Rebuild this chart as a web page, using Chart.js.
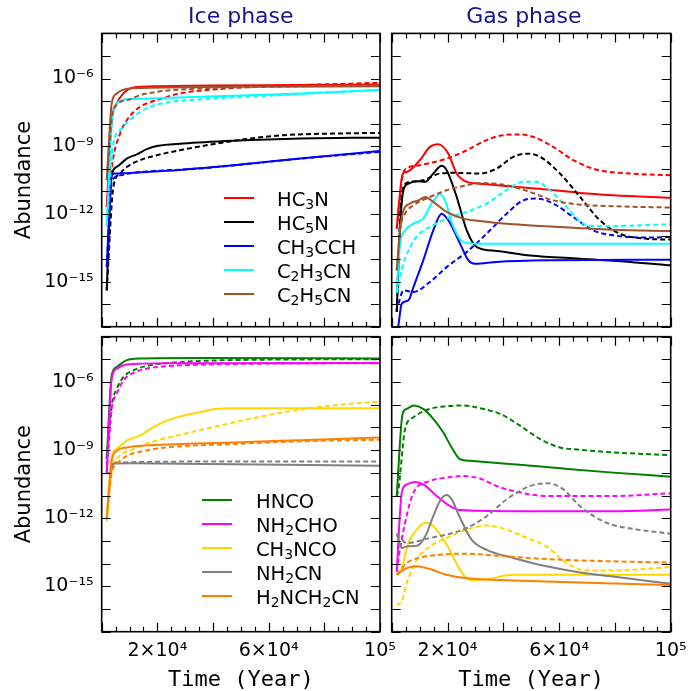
<!DOCTYPE html>
<html>
<head>
<meta charset="utf-8">
<title>Abundance vs time</title>
<script src="https://cdn.jsdelivr.net/npm/chart.js@4.4.1/dist/chart.umd.min.js"></script>
<style>
  body { margin: 0; background: #fff; }
  #wrap { position: relative; width: 694px; height: 691px; overflow: hidden; }
  .panel { position: absolute; }
</style>
</head>
<body>
<div id="wrap">
  <div class="panel" style="left:0;top:0;width:410px;height:330px"><canvas id="iceTop"></canvas></div>
  <div class="panel" style="left:377px;top:0;width:317px;height:330px"><canvas id="gasTop"></canvas></div>
  <div class="panel" style="left:0;top:330px;width:410px;height:361px"><canvas id="iceBottom"></canvas></div>
  <div class="panel" style="left:377px;top:330px;width:317px;height:361px"><canvas id="gasBottom"></canvas></div>
</div>
<script>
// axis ticks
const timeTicks = [20000, 60000, 100000];
const timeTickLabels = ['2×10⁴', '6×10⁴', '10⁵'];
const abundanceTicks = [1e-6, 1e-9, 1e-12, 1e-15];
const abundanceTickLabels = ['10⁻⁶', '10⁻⁹', '10⁻¹²', '10⁻¹⁵'];

// species shown in each row
const topSpecies = ['HC₃N', 'HC₅N', 'CH₃CCH', 'C₂H₃CN', 'C₂H₅CN'];
const topColors = ['#ff0000', '#000000', '#0000ff', '#00ffff', '#a0522d'];
const bottomSpecies = ['HNCO', 'NH₂CHO', 'CH₃NCO', 'NH₂CN', 'H₂NCH₂CN'];
const bottomColors = ['#008000', '#ff00ff', '#ffd700', '#808080', '#ff8000'];

// [time (yr), log10 abundance]; A = solid model, B = dashed model
// --- ice, top row ---
const hc3nIceA = [[1800,-11.7],[3600,-7.85],[5400,-7.1],[7800,-6.66],[11400,-6.4],[19800,-6.34],[40000,-6.31],[70000,-6.29],[100000,-6.27]];
const hc3nIceB = [[1800,-11.7],[4200,-9.47],[6600,-8.44],[9000,-7.85],[13800,-7.25],[19800,-6.96],[28100,-6.66],[40000,-6.49],[59300,-6.34],[83200,-6.25],[100000,-6.19]];
const hc5nIceA = [[1800,-15.39],[3600,-10.29],[5400,-9.92],[9000,-9.55],[12600,-9.36],[16200,-9.13],[19800,-8.99],[29300,-8.88],[47300,-8.76],[71300,-8.66],[100000,-8.62]];
const hc5nIceB = [[1800,-15.39],[4200,-10.8],[6600,-10.21],[9000,-9.92],[13800,-9.62],[19800,-9.4],[29300,-9.15],[41300,-8.88],[53300,-8.66],[65300,-8.51],[83200,-8.44],[100000,-8.41]];
const ch3cchIceA = [[1800,-14.36],[3600,-10.29],[4800,-10.21],[11400,-10.18],[23400,-10.09],[47300,-9.84],[71300,-9.55],[100000,-9.21]];
const ch3cchIceB = [[1800,-14.36],[3600,-10.58],[6600,-10.29],[11400,-10.18],[35300,-9.99],[71300,-9.55],[100000,-9.25]];
const c2h3cnIceA = [[1800,-12.5],[3600,-8.0],[4800,-7.25],[7200,-6.96],[11400,-6.91],[35300,-6.81],[71300,-6.66],[100000,-6.51]];
const c2h3cnIceB = [[1800,-12.5],[4200,-8.88],[6600,-8.29],[11400,-7.7],[17400,-7.25],[25700,-7.03],[41300,-6.88],[71300,-6.69],[100000,-6.49]];
const c2h5cnIceA = [[1800,-10.5],[3600,-7.1],[5400,-6.66],[7800,-6.49],[11400,-6.43],[50000,-6.37],[100000,-6.34]];
const c2h5cnIceB = [[1800,-10.5],[4200,-7.4],[9000,-6.96],[13800,-6.74],[19800,-6.59],[35300,-6.44],[59300,-6.37],[100000,-6.29]];

// --- gas, top row ---
const hc3nGasA = [[1800,-12.65],[3900,-10.24],[5400,-10.14],[10100,-9.62],[13700,-9.03],[16700,-8.91],[18500,-9.03],[20300,-9.33],[23300,-10.21],[26900,-10.58],[31600,-10.66],[43600,-10.8],[55500,-10.92],[67500,-11.07],[79400,-11.17],[100000,-11.29]];
const hc3nGasB = [[1800,-12.65],[3900,-10.3],[5400,-9.99],[10100,-9.84],[19700,-9.55],[26900,-9.18],[34000,-8.73],[40000,-8.51],[46000,-8.48],[50800,-8.59],[57900,-9.03],[65100,-9.62],[73500,-10.04],[85400,-10.21],[100000,-10.29]];
const hc5nGasA = [[1800,-16.35],[3000,-12.58],[4200,-10.95],[6000,-10.66],[9000,-10.55],[12000,-10.58],[14900,-10.21],[17900,-9.87],[19700,-10.07],[23300,-11.25],[26900,-12.73],[30500,-13.47],[37600,-13.64],[49600,-13.84],[67500,-13.99],[85400,-14.13],[100000,-14.28]];
const hc5nGasB = [[1800,-16.35],[3000,-12.2],[4200,-10.8],[6600,-10.58],[11300,-10.51],[17300,-10.21],[22100,-10.18],[31600,-10.21],[37600,-9.99],[43600,-9.47],[48400,-9.33],[53200,-9.47],[60300,-10.21],[67500,-11.25],[74600,-12.28],[81800,-12.88],[91400,-13.1],[100000,-13.14]];
const ch3cchGasA = [[2000,-17.2],[2400,-16.94],[3600,-15.98],[6000,-15.83],[7800,-15.24],[11300,-14.06],[14900,-12.73],[17900,-11.99],[20300,-12.28],[24500,-13.32],[27500,-14.06],[29900,-14.21],[37600,-14.13],[55500,-14.06],[100000,-14.03]];
const ch3cchGasB = [[2400,-15.98],[4200,-15.39],[7800,-15.46],[13700,-15.02],[19700,-14.36],[26900,-13.69],[34000,-12.88],[41200,-11.99],[47200,-11.4],[51900,-11.32],[57900,-11.54],[65100,-12.14],[72200,-12.73],[79400,-12.95],[91400,-13.05],[100000,-13.02]];
const c2h3cnGasA = [[1800,-15.5],[3000,-13.32],[4800,-12.73],[7800,-12.43],[11300,-12.21],[14300,-11.54],[17300,-11.13],[19100,-11.4],[22100,-12.58],[25700,-13.25],[31600,-13.32],[100000,-13.32]];
const c2h3cnGasB = [[1800,-15.5],[4200,-14.21],[6600,-13.47],[9000,-12.99],[13700,-12.58],[19700,-12.21],[26900,-11.91],[34000,-11.54],[41200,-10.95],[47200,-10.58],[51900,-10.58],[56700,-10.95],[62700,-11.69],[68700,-12.43],[74600,-12.55],[100000,-12.46]];
const c2h5cnGasA = [[1800,-14.5],[3600,-12.14],[6600,-11.54],[9600,-11.4],[12000,-11.25],[14900,-11.47],[19700,-11.91],[25700,-12.21],[31600,-12.31],[43600,-12.46],[55500,-12.55],[79400,-12.7],[100000,-12.76]];
const c2h5cnGasB = [[1800,-14.5],[3000,-12.7],[4800,-11.99],[7800,-11.62],[13700,-11.25],[19700,-10.95],[26900,-10.73],[31600,-10.63],[41200,-10.73],[49600,-11.03],[57900,-11.4],[67500,-11.59],[79400,-11.66],[100000,-11.72]];

// --- ice, bottom row ---
const hncoIceA = [[1800,-9.38],[3600,-5.7],[5400,-5.33],[9000,-5.03],[13800,-4.96],[35300,-4.94],[100000,-4.96]];
const hncoIceB = [[1800,-9.38],[3600,-7.03],[5400,-6.3],[7800,-5.78],[11400,-5.48],[17400,-5.26],[29300,-5.11],[47300,-5.03],[100000,-4.99]];
const nh2choIceA = [[1800,-9.99],[3600,-5.85],[5400,-5.41],[9000,-5.23],[23400,-5.17],[100000,-5.16]];
const nh2choIceB = [[1800,-9.99],[3600,-7.18],[5400,-6.52],[7800,-5.93],[11400,-5.59],[17400,-5.38],[29300,-5.26],[47300,-5.2],[100000,-5.17]];
const ch3ncoIceA = [[1800,-12.13],[3600,-9.32],[5400,-8.95],[9000,-8.58],[13800,-8.36],[17400,-8.07],[23400,-7.7],[29300,-7.48],[35300,-7.33],[41300,-7.18],[47300,-7.15],[100000,-7.15]];
const ch3ncoIceB = [[1800,-12.13],[3600,-9.9],[5400,-9.4],[11400,-8.95],[17400,-8.66],[29300,-8.29],[41300,-7.95],[53300,-7.62],[65300,-7.33],[77200,-7.11],[89200,-6.96],[100000,-6.86]];
const nh2cnIceA = [[1800,-10.02],[3000,-10.0],[4200,-9.59],[11400,-9.58],[47300,-9.62],[100000,-9.69]];
const nh2cnIceB = [[1800,-10.02],[3000,-10.0],[4200,-9.55],[47300,-9.5],[100000,-9.5]];
const h2nch2cnIceA = [[1800,-11.98],[3600,-9.47],[5400,-9.03],[9000,-8.88],[17400,-8.78],[47300,-8.66],[71300,-8.56],[100000,-8.44]];
const h2nch2cnIceB = [[1800,-11.98],[3600,-9.99],[5400,-9.62],[9000,-9.25],[13800,-9.07],[23400,-8.88],[47300,-8.73],[71300,-8.61],[100000,-8.54]];

// --- gas, bottom row ---
const hncoGasA = [[1800,-11.02],[3900,-7.4],[5400,-7.18],[7800,-7.03],[11300,-7.18],[14900,-7.62],[18500,-8.22],[21500,-8.88],[24500,-9.4],[28100,-9.47],[43600,-9.62],[61500,-9.81],[79400,-9.99],[100000,-10.17]];
const hncoGasB = [[1800,-11.02],[2400,-10.73],[4800,-8.07],[7800,-7.55],[13700,-7.18],[19700,-7.06],[25700,-7.03],[31600,-7.15],[38800,-7.4],[46000,-7.92],[53200,-8.51],[60300,-8.88],[67500,-8.98],[79400,-9.1],[100000,-9.22]];
const nh2choGasA = [[1800,-14.35],[3600,-10.87],[5400,-10.51],[8400,-10.4],[11300,-10.51],[16100,-11.02],[20900,-11.47],[24500,-11.64],[43600,-11.69],[79400,-11.69],[100000,-11.61]];
const nh2choGasB = [[1800,-14.35],[2400,-13.8],[4800,-12.2],[7800,-10.87],[13700,-10.36],[19700,-10.21],[25700,-10.14],[31600,-10.25],[37600,-10.58],[43600,-10.8],[55500,-11.02],[79400,-11.02],[100000,-10.9]];
const ch3ncoGasA = [[1800,-14.49],[3600,-14.2],[6000,-13.09],[9000,-12.5],[12000,-12.2],[14900,-12.35],[19700,-13.16],[24500,-14.27],[28100,-14.72],[34000,-14.69],[43600,-14.49],[55500,-14.49],[100000,-14.49]];
const ch3ncoGasB = [[1800,-15.82],[3600,-15.67],[5400,-14.86],[9000,-13.83],[13700,-13.24],[19700,-12.87],[26900,-12.5],[34000,-12.32],[41200,-12.5],[48400,-12.87],[55500,-13.24],[62700,-13.98],[69900,-14.3],[79400,-14.3],[100000,-14.15]];
const nh2cnGasA = [[1800,-12.68],[3600,-13.31],[5400,-13.24],[9000,-13.21],[12000,-12.8],[14900,-11.91],[17300,-11.24],[19700,-10.98],[21500,-11.17],[24500,-11.98],[28600,-12.94],[34000,-13.39],[43600,-13.75],[55500,-14.12],[67500,-14.39],[79400,-14.57],[100000,-14.89]];
const nh2cnGasB = [[1800,-12.68],[5400,-13.09],[13700,-12.87],[19700,-12.72],[26900,-12.43],[34000,-11.91],[41200,-11.17],[49600,-10.58],[56100,-10.46],[61500,-10.73],[67500,-11.47],[77000,-12.2],[86600,-12.47],[100000,-12.68]];
const h2nch2cnGasA = [[1800,-14.49],[5400,-14.2],[9000,-14.12],[13700,-14.24],[19700,-14.49],[26900,-14.64],[43600,-14.74],[67500,-14.83],[100000,-14.94]];
const h2nch2cnGasB = [[1800,-14.49],[5400,-13.98],[10100,-13.73],[17300,-13.61],[25700,-13.56],[37600,-13.65],[55500,-13.8],[79400,-13.9],[100000,-13.95]];

Chart.defaults.font.family = 'DejaVu Sans';
Chart.defaults.color = '#000';

function toPoints(pairs) {
  return pairs.map(([t, lg]) => ({ x: t, y: Math.pow(10, lg) }));
}

// one solid and one dashed line per species
function buildDatasets(names, colors, solid, dashed) {
  const sets = [];
  names.forEach((name, i) => {
    [[solid[i], false], [dashed[i], true]].forEach(([pairs, isDashed], k) => {
      sets.push({
        label: name,
        data: toPoints(pairs),
        borderColor: colors[i],
        borderWidth: 2,
        borderDash: isDashed ? [5, 3] : [],
        keyEntry: !isDashed,
        pointRadius: 0,
        fill: false,
        cubicInterpolationMode: 'monotone',
        order: -(i * 2 + k)
      });
    });
  });
  return sets;
}

// box frame with inward ticks on all four sides
const frameTicks = {
  id: 'frameTicks',
  afterDatasetsDraw(chart) {
    const { ctx, chartArea: a, scales: { x, y } } = chart;
    ctx.save();
    ctx.strokeStyle = '#000';
    ctx.lineWidth = 1.2;
    ctx.beginPath();
    for (let e = -17; e <= -4; e++) {
      const py = Math.round(y.getPixelForValue(Math.pow(10, e))) + 0.5;
      ctx.moveTo(a.left, py); ctx.lineTo(a.left + 9, py);
      ctx.moveTo(a.right, py); ctx.lineTo(a.right - 9, py);
    }
    for (let t = 0; t <= 100000; t += 5000) {
      const px = Math.round(x.getPixelForValue(t)) + 0.5;
      const len = t % 20000 === 0 ? 9 : 5;
      ctx.moveTo(px, a.top); ctx.lineTo(px, a.top + len);
      ctx.moveTo(px, a.bottom); ctx.lineTo(px, a.bottom - len);
    }
    ctx.stroke();
    ctx.lineWidth = 1.6;
    ctx.strokeRect(a.left, a.top, a.right - a.left, a.bottom - a.top);
    ctx.restore();
  }
};

// subscript digits are drawn smaller and lowered, like formula text
const SUBS = '₀₁₂₃₄₅₆₇₈₉';
function drawFormula(ctx, text, x, baseline) {
  let cx = x;
  for (const ch of text) {
    const k = SUBS.indexOf(ch);
    if (k >= 0) {
      ctx.font = '14px "DejaVu Sans"';
      ctx.fillText(String(k), cx, baseline + 3);
      cx += ctx.measureText(String(k)).width;
    } else {
      ctx.font = '19.5px "DejaVu Sans"';
      ctx.fillText(ch, cx, baseline);
      cx += ctx.measureText(ch).width;
    }
  }
}

// legend drawn inside the plot, solid lines only
const speciesKey = {
  id: 'speciesKey',
  afterDraw(chart, args, opts) {
    if (!opts.show) return;
    const { ctx } = chart;
    const items = chart.data.datasets.filter(d => d.keyEntry);
    ctx.save();
    ctx.textBaseline = 'alphabetic';
    ctx.fillStyle = '#000';
    items.forEach((d, i) => {
      const yy = opts.top + i * opts.step;
      ctx.strokeStyle = d.borderColor;
      ctx.lineWidth = 2;
      ctx.beginPath();
      ctx.moveTo(opts.lineX, yy);
      ctx.lineTo(opts.lineX + 30, yy);
      ctx.stroke();
      drawFormula(ctx, d.label, opts.textX, yy + 7.5);
    });
    ctx.restore();
  }
};

function makePanel(id, cfg) {
  const xAxis = {
    type: 'linear',
    min: 0,
    max: 100000,
    afterBuildTicks: s => { s.ticks = timeTicks.map(v => ({ value: v })); },
    afterFit: s => {
      s.height = cfg.xHeight;
      s.paddingLeft = 0; s.paddingRight = 0;
    },
    ticks: {
      display: cfg.xLabels,
      autoSkip: false,
      maxRotation: 0,
      padding: 8,
      font: { size: 19 },
      callback: (v, i) => timeTickLabels[i]
    },
    grid: { display: false, drawTicks: false },
    border: { display: false },
    title: {
      display: cfg.xLabels,
      text: 'Time (Year)',
      font: { family: 'DejaVu Sans Mono', size: 22, lineHeight: 1 },
      padding: { top: 0, bottom: 0 }
    }
  };
  const yAxis = {
    type: 'logarithmic',
    min: 1e-17,
    max: 1e-4,
    afterBuildTicks: s => { s.ticks = abundanceTicks.map(v => ({ value: v })); },
    afterFit: s => {
      s.width = cfg.yWidth;
      s.paddingTop = 0; s.paddingBottom = 0;
    },
    ticks: {
      display: cfg.yLabels,
      padding: 8,
      font: { size: 19 },
      callback: (v, i) => abundanceTickLabels[i]
    },
    grid: { display: false, drawTicks: false },
    border: { display: false },
    title: {
      display: cfg.yLabels,
      text: 'Abundance',
      font: { size: 21, lineHeight: 1.2 },
      padding: { top: 12, bottom: 0 }
    }
  };
  return new Chart(document.getElementById(id), {
    type: 'line',
    data: { datasets: cfg.datasets },
    options: {
      responsive: true,
      maintainAspectRatio: false,
      animation: false,
      layout: { padding: cfg.padding },
      scales: { x: xAxis, y: yAxis },
      plugins: {
        legend: { display: false },
        tooltip: { enabled: false },
        title: {
          display: !!cfg.title,
          text: cfg.title,
          color: '#14148c',
          fullSize: cfg.titleFull,
          font: { size: 22, weight: 'normal', lineHeight: 1.2 },
          padding: { top: 4, bottom: 3 }
        },
        speciesKey: cfg.key || { show: false }
      }
    },
    plugins: [frameTicks, speciesKey]
  });
}

makePanel('iceTop', {
  title: 'Ice phase', titleFull: false,
  xLabels: false, yLabels: true, xHeight: 3.3, yWidth: 101.7,
  padding: { top: 0, left: 0, right: 30, bottom: 0 },
  datasets: buildDatasets(topSpecies, topColors,
    [hc3nIceA, hc5nIceA, ch3cchIceA, c2h3cnIceA, c2h5cnIceA],
    [hc3nIceB, hc5nIceB, ch3cchIceB, c2h3cnIceB, c2h5cnIceB]),
  key: { show: true, lineX: 224, textX: 277, top: 198, step: 24 }
});

makePanel('gasTop', {
  title: 'Gas phase', titleFull: true,
  xLabels: false, yLabels: false, xHeight: 3.3, yWidth: 14.7,
  padding: { top: 0, left: 0, right: 23.3, bottom: 0 },
  datasets: buildDatasets(topSpecies, topColors,
    [hc3nGasA, hc5nGasA, ch3cchGasA, c2h3cnGasA, c2h5cnGasA],
    [hc3nGasB, hc5nGasB, ch3cchGasB, c2h3cnGasB, c2h5cnGasB])
});

makePanel('iceBottom', {
  xLabels: true, yLabels: true, xHeight: 59.3, yWidth: 101.7,
  padding: { top: 6.7, left: 0, right: 30, bottom: 0 },
  datasets: buildDatasets(bottomSpecies, bottomColors,
    [hncoIceA, nh2choIceA, ch3ncoIceA, nh2cnIceA, h2nch2cnIceA],
    [hncoIceB, nh2choIceB, ch3ncoIceB, nh2cnIceB, h2nch2cnIceB]),
  key: { show: true, lineX: 202, textX: 256, top: 170, step: 24 }
});

makePanel('gasBottom', {
  xLabels: true, yLabels: false, xHeight: 59.3, yWidth: 14.7,
  padding: { top: 6.7, left: 0, right: 23.3, bottom: 0 },
  datasets: buildDatasets(bottomSpecies, bottomColors,
    [hncoGasA, nh2choGasA, ch3ncoGasA, nh2cnGasA, h2nch2cnGasA],
    [hncoGasB, nh2choGasB, ch3ncoGasB, nh2cnGasB, h2nch2cnGasB])
});
</script>
</body>
</html>
